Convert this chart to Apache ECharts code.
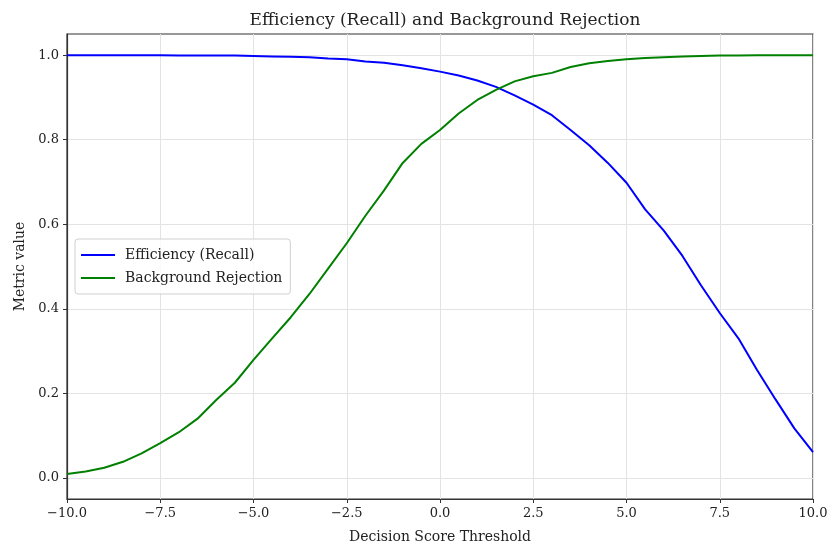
<!DOCTYPE html>
<html>
<head>
<meta charset="utf-8">
<script src="https://cdn.jsdelivr.net/npm/echarts@6/dist/echarts.min.js"></script>
<style>html,body{margin:0;padding:0;background:#fff}#c{width:830px;height:546px}</style>
</head>
<body>
<div id="c"></div>
<script>
const thresholds = [-10,-9.5,-9,-8.5,-8,-7.5,-7,-6.5,-6,-5.5,-5,-4.5,-4,-3.5,-3,-2.5,-2,-1.5,-1,-0.5,0,0.5,1,1.5,2,2.5,3,3.5,4,4.5,5,5.5,6,6.5,7,7.5,8,8.5,9,9.5,10];
const efficiency = [1.000,1.000,1.000,1.000,1.000,1.000,0.999,0.999,0.999,0.999,0.998,0.997,0.996,0.995,0.992,0.990,0.985,0.982,0.976,0.969,0.961,0.952,0.940,0.925,0.905,0.883,0.858,0.823,0.787,0.745,0.698,0.635,0.585,0.525,0.455,0.390,0.330,0.255,0.185,0.117,0.061];
const rejection = [0.009,0.015,0.024,0.038,0.058,0.082,0.108,0.140,0.184,0.225,0.279,0.330,0.380,0.435,0.495,0.555,0.620,0.680,0.745,0.790,0.823,0.862,0.894,0.918,0.938,0.950,0.958,0.972,0.981,0.986,0.990,0.993,0.995,0.997,0.998,0.999,0.999,1.000,1.000,1.000,1.000];
const yTicks = [0.0,0.2,0.4,0.6,0.8,1.0];
const xTicks = [-10,-7.5,-5,-2.5,0,2.5,5,7.5,10];

const font = "'DejaVu Serif', 'Liberation Serif', serif";
const fmt = v => (v < 0 ? '\u2212' : '') + Math.abs(v).toFixed(1);

const chart = echarts.init(document.getElementById('c'), null, {renderer: 'canvas'});
chart.setOption({
  animation: false,
  backgroundColor: '#fff',
  title: {
    text: 'Efficiency (Recall) and Background Rejection',
    left: 440, textAlign: 'center', top: 7,
    textStyle: {fontFamily: font, fontSize: 17, fontWeight: 'normal', color: '#222'}
  },
  legend: {
    orient: 'vertical', left: 75, top: 239,
    itemWidth: 34, itemHeight: 2, itemGap: 9, icon: 'rect',
    padding: [9, 8, 9, 6],
    backgroundColor: 'rgba(255,255,255,0.8)',
    borderColor: '#d0d0d0', borderWidth: 1, borderRadius: 3,
    textStyle: {fontFamily: font, fontSize: 14, color: '#222', padding: [0,0,0,5]},
    data: ['Efficiency (Recall)', 'Background Rejection']
  },
  grid: {left: 67, right: 17, top: 34, bottom: 47, show: true, borderColor: '#333', borderWidth: 1.2, outerBoundsMode: 'none', containLabel: false},
  xAxis: {
    type: 'value', min: -10, max: 10,
    name: 'Decision Score Threshold', nameLocation: 'middle', nameGap: 31,
    nameTextStyle: {fontFamily: font, fontSize: 14, color: '#222'},
    axisLine: {show: true, onZero: false, lineStyle: {color: '#333', width: 1.2}},
    axisTick: {show: true, length: 4, customValues: xTicks, lineStyle: {color: '#333'}},
    axisLabel: {customValues: xTicks, formatter: fmt, fontFamily: font, fontSize: 13, color: '#222', margin: 8},
    splitLine: {show: true, lineStyle: {color: '#e3e3e3', width: 1}}
  },
  yAxis: {
    type: 'value', min: -0.05, max: 1.05,
    name: 'Metric value', nameLocation: 'middle', nameGap: 40,
    nameTextStyle: {fontFamily: font, fontSize: 14, color: '#222'},
    axisLine: {show: true, onZero: false, lineStyle: {color: '#333', width: 1.2}},
    axisTick: {show: true, length: 4, customValues: yTicks, lineStyle: {color: '#333'}},
    axisLabel: {customValues: yTicks, formatter: v => v.toFixed(1), fontFamily: font, fontSize: 13, color: '#222', margin: 8},
    splitLine: {show: true, lineStyle: {color: '#e3e3e3', width: 1}}
  },
  series: [
    {
      name: 'Efficiency (Recall)', type: 'line', showSymbol: false, symbol: 'none',
      color: '#0000ff', lineStyle: {width: 2},
      data: thresholds.map((x, i) => [x, efficiency[i]])
    },
    {
      name: 'Background Rejection', type: 'line', showSymbol: false, symbol: 'none',
      color: '#008000', lineStyle: {width: 2},
      data: thresholds.map((x, i) => [x, rejection[i]])
    }
  ]
});
</script>
</body>
</html>
